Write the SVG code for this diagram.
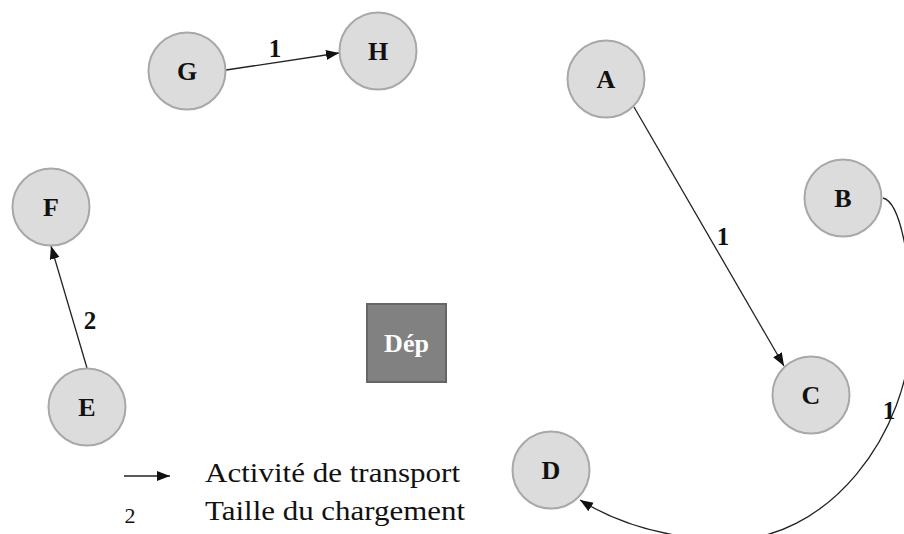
<svg xmlns="http://www.w3.org/2000/svg" width="904" height="534" viewBox="0 0 904 534">
<style>
.node circle{fill:#dcdcdc;stroke:#a8a8a8;stroke-width:2}
.node text{font-family:"Liberation Serif",serif;font-weight:bold;font-size:26px;text-anchor:middle;fill:#111}
.edge{fill:none;stroke:#222;stroke-width:1.3}
.lbl{font-family:"Liberation Serif",serif;font-weight:bold;font-size:25px;text-anchor:middle;fill:#111}
.leg{font-family:"Liberation Serif",serif;font-size:27px;fill:#111}
</style>
<defs>
<marker id="ah" markerUnits="userSpaceOnUse" markerWidth="14" markerHeight="12" refX="13" refY="5" orient="auto" viewBox="0 0 14 10">
<path d="M0,0 L13,5 L0,10 z" fill="#111"/>
</marker>
</defs>
<g id="connectors">
<line class="edge" x1="226" y1="70" x2="339" y2="53" marker-end="url(#ah)"/>
<line class="edge" x1="634" y1="107" x2="784" y2="366" marker-end="url(#ah)"/>
<line class="edge" x1="87" y1="368" x2="51" y2="246" marker-end="url(#ah)"/>
<path class="edge" d="M883,198 C900,202 912,260 911,330 C910,430 830,545 720,540 C660,537 615,522 580,500" marker-end="url(#ah)"/>
<text class="lbl" x="275" y="57">1</text>
<text class="lbl" x="723" y="245">1</text>
<text class="lbl" x="889" y="419">1</text>
<text class="lbl" x="90" y="329">2</text>
</g>
<g id="node-G" class="node"><circle cx="187" cy="71" r="38.5"/><text x="187" y="80">G</text></g>
<g id="node-H" class="node"><circle cx="378" cy="51" r="38.5"/><text x="378" y="60">H</text></g>
<g id="node-A" class="node"><circle cx="606" cy="79" r="38.5"/><text x="606" y="88">A</text></g>
<g id="node-B" class="node"><circle cx="843" cy="198" r="38.5"/><text x="843" y="207">B</text></g>
<g id="node-C" class="node"><circle cx="811" cy="395" r="38.5"/><text x="811" y="404">C</text></g>
<g id="node-D" class="node"><circle cx="551" cy="470" r="38.5"/><text x="551" y="479">D</text></g>
<g id="node-F" class="node"><circle cx="51" cy="207" r="38.5"/><text x="51" y="216">F</text></g>
<g id="node-E" class="node"><circle cx="87" cy="407" r="38.5"/><text x="87" y="416">E</text></g>
<g id="node-Dep">
<rect x="367" y="304" width="79" height="78" fill="#818181" stroke="#666" stroke-width="2"/>
<text x="406.5" y="352" font-family="Liberation Serif,serif" font-weight="bold" font-size="26" fill="#fff" text-anchor="middle">Dép</text>
</g>
<g id="legend">
<line class="edge" x1="124" y1="476" x2="170" y2="476" marker-end="url(#ah)"/>
<text class="leg" x="205" y="482" textLength="255" lengthAdjust="spacingAndGlyphs">Activité de transport</text>
<text x="130" y="523" font-family="Liberation Serif,serif" font-size="22" fill="#111" text-anchor="middle">2</text>
<text class="leg" x="205" y="520" textLength="260" lengthAdjust="spacingAndGlyphs">Taille du chargement</text>
</g>
</svg>
